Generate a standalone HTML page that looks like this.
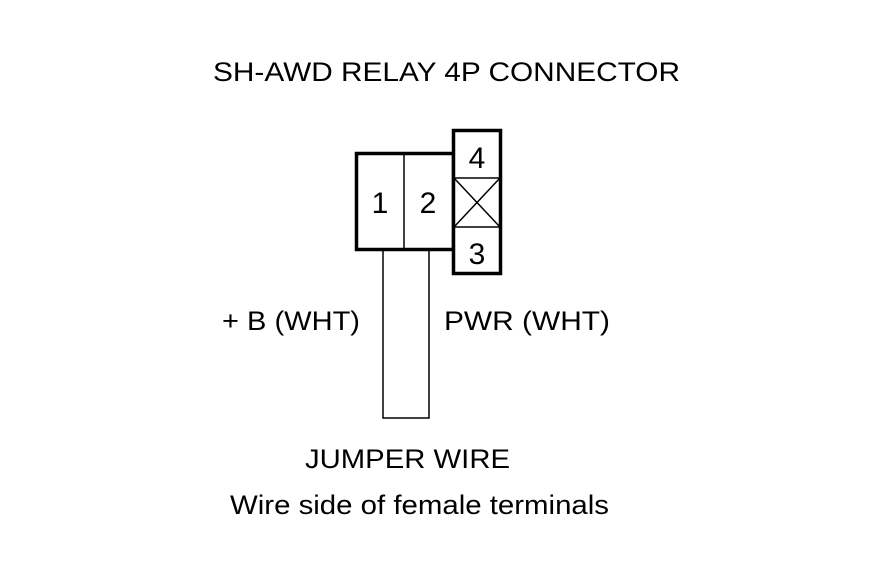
<!DOCTYPE html>
<html><head><style>
body{margin:0;background:#fff;}
text{font-family:"Liberation Sans",Arial,sans-serif;fill:#000;}
</style></head><body>
<svg width="880" height="580" xmlns="http://www.w3.org/2000/svg">
<rect width="880" height="580" fill="#fff"/>
<text x="213" y="81" font-size="27" textLength="467" lengthAdjust="spacingAndGlyphs">SH-AWD RELAY 4P CONNECTOR</text>
<rect x="383" y="250" width="46" height="168" fill="none" stroke="#000" stroke-width="1.5"/>
<rect x="356.5" y="153.5" width="97" height="96" fill="#fff" stroke="#000" stroke-width="3.5"/>
<line x1="404" y1="153" x2="404" y2="250" stroke="#000" stroke-width="1.5"/>
<rect x="453.5" y="130.5" width="47" height="143" fill="#fff" stroke="#000" stroke-width="3.5"/>
<line x1="453" y1="178" x2="501" y2="178" stroke="#000" stroke-width="1.5"/>
<line x1="453" y1="227" x2="501" y2="227" stroke="#000" stroke-width="1.5"/>
<line x1="454" y1="178" x2="500" y2="227" stroke="#000" stroke-width="1.5"/>
<line x1="500" y1="178" x2="454" y2="227" stroke="#000" stroke-width="1.5"/>
<text x="380" y="213" font-size="30" text-anchor="middle">1</text>
<text x="428" y="213" font-size="30" text-anchor="middle">2</text>
<text x="477" y="168" font-size="30" text-anchor="middle">4</text>
<text x="477" y="264" font-size="30" text-anchor="middle">3</text>
<text x="222" y="330" font-size="27" textLength="138" lengthAdjust="spacingAndGlyphs">+ B (WHT)</text>
<text x="444" y="330" font-size="27" textLength="166" lengthAdjust="spacingAndGlyphs">PWR (WHT)</text>
<text x="305" y="468" font-size="27" textLength="205" lengthAdjust="spacingAndGlyphs">JUMPER WIRE</text>
<text x="230" y="514" font-size="27" textLength="379" lengthAdjust="spacingAndGlyphs">Wire side of female terminals</text>
</svg>
</body></html>
